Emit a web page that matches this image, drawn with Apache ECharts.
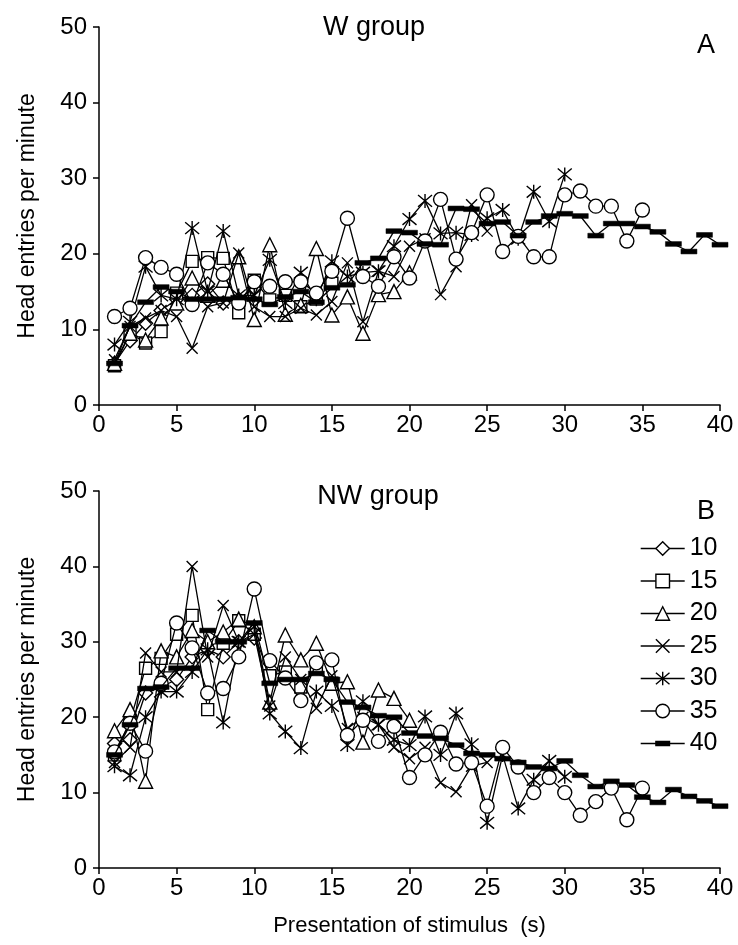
<!DOCTYPE html>
<html><head><meta charset="utf-8">
<script src="https://cdn.jsdelivr.net/npm/echarts@6/dist/echarts.min.js"></script>
<style>html,body{margin:0;padding:0;background:#fff}#c{width:738px;height:945px}</style>
</head><body><div id="c"></div>
<script>
const seconds = [1,2,3,4,5,6,7,8,9,10,11,12,13,14,15,16,17,18,19,20,21,22,23,24,25,26,27,28,29,30,31,32,33,34,35,36,37,38,39,40];
const seriesNames = ['10','15','20','25','30','35','40'];
const xTicks = [0,5,10,15,20,25,30,35,40];
const yTicks = [0,10,20,30,40,50];

// Panel A: W group
const A10 = [5.5, 8.5, 10.8, 12.5, 14.0, 14.5, 16.0, 13.5, 14.0, 15.5];
const A15 = [5.2, 9.5, 8.2, 9.7, 14.8, 19.0, 19.5, 19.4, 12.2, 16.5, 13.9, 14.5, 13.0, 14.0, 16.1];
const A20 = [5.5, 9.5, 8.6, 11.5, 13.5, 16.8, 14.5, 16.5, 19.6, 11.3, 21.2, 12.0, 13.2, 20.7, 11.9, 14.3, 9.5, 14.6, 15.0, 17.5];
const A25 = [6.0, 10.4, 11.5, 12.5, 11.7, 7.5, 13.0, 13.5, 20.1, 13.0, 11.7, 11.7, 12.8, 11.9, 13.7, 18.8, 11.0, 17.7, 17.0, 21.0, 22.0, 14.6, 18.3, 26.5, 23.0];
const A30 = [8.0, 11.0, 18.3, 14.5, 14.0, 23.4, 15.0, 23.0, 14.5, 14.5, 19.2, 13.5, 17.5, 14.0, 19.0, 17.0, 17.5, 17.7, 21.0, 24.6, 27.0, 22.7, 22.8, 22.5, 24.7, 25.8, 22.0, 28.2, 24.3, 30.5];
const A35 = [11.7, 12.8, 19.5, 18.2, 17.3, 13.3, 18.8, 17.3, 13.5, 16.3, 15.7, 16.3, 16.3, 14.8, 17.7, 24.7, 17.0, 15.7, 19.6, 16.8, 21.7, 27.2, 19.3, 22.8, 27.8, 20.3, 22.3, 19.6, 19.6, 27.8, 28.3, 26.3, 26.3, 21.7, 25.8];
const A40 = [5.5, 10.5, 13.6, 15.6, 15.0, 14.0, 14.0, 14.0, 14.2, 14.0, 13.3, 14.3, 15.0, 13.6, 15.5, 15.9, 18.8, 19.4, 23.0, 22.8, 21.3, 21.2, 26.0, 25.9, 24.0, 24.2, 22.4, 24.2, 25.0, 25.3, 25.0, 22.4, 24.0, 24.0, 23.6, 22.9, 21.3, 20.3, 22.5, 21.2];

// Panel B: NW group
const B10 = [16.5, 17.0, 23.2, 24.0, 25.0, 28.0, 29.0, 28.0, 30.0, 30.5];
const B15 = [15.0, 19.5, 26.5, 27.8, 31.0, 33.5, 21.0, 29.8, 32.8, 31.0, 25.5, 26.0, 24.0, 26.5, 24.5];
const B20 = [18.2, 21.0, 11.5, 28.8, 28.0, 31.5, 30.0, 31.3, 33.0, 32.0, 22.0, 30.9, 27.6, 29.8, 24.5, 24.7, 16.7, 23.6, 22.5, 19.6];
const B25 = [14.0, 16.0, 28.5, 26.0, 26.0, 40.0, 28.0, 34.8, 30.0, 31.0, 21.5, 28.0, 25.0, 21.2, 25.5, 18.5, 20.0, 19.0, 16.0, 14.5, 16.0, 11.3, 10.1, 13.5, 14.0];
const B30 = [13.5, 12.3, 20.0, 23.4, 23.4, 26.0, 29.0, 19.3, 30.0, 32.0, 20.5, 18.1, 15.9, 23.4, 21.5, 16.3, 22.1, 19.0, 17.0, 16.3, 20.1, 15.0, 20.5, 16.4, 6.0, 15.0, 7.9, 11.7, 14.2, 12.1];
const B35 = [15.4, 19.2, 15.5, 24.5, 32.5, 29.2, 23.2, 23.8, 28.0, 37.0, 27.5, 25.2, 22.2, 27.2, 27.6, 17.6, 19.6, 16.8, 18.8, 12.0, 15.0, 18.0, 13.8, 14.0, 8.2, 16.0, 13.4, 10.0, 12.0, 10.0, 7.0, 8.8, 10.6, 6.4, 10.6];
const B40 = [15.0, 19.0, 23.8, 24.0, 26.5, 26.5, 31.5, 30.0, 30.0, 32.5, 24.5, 25.0, 25.0, 25.8, 25.0, 22.0, 21.3, 20.2, 20.0, 17.9, 17.5, 17.2, 16.3, 15.2, 15.0, 14.5, 14.0, 13.4, 13.2, 14.2, 12.3, 10.8, 11.5, 11.0, 9.4, 8.7, 10.4, 9.5, 8.9, 8.2];

const panelA = [A10, A15, A20, A25, A30, A35, A40];
const panelB = [B10, B15, B20, B25, B30, B35, B40];

const FONT = 'Liberation Sans, Arial, sans-serif';
const symbolDefs = [
  {symbol: 'diamond', size: 14},
  {symbol: 'rect', size: 12},
  {symbol: 'triangle', size: 14},
  {symbol: 'path://M0,0L10,10M10,0L0,10', size: 11},
  {symbol: 'path://M0,0L10,10M10,0L0,10M5,-1L5,11', size: 14},
  {symbol: 'circle', size: 14},
  {symbol: 'path://M0,0M0,3.5L10,3.5L10,6.5L0,6.5ZM10,10', size: 16, dash: true}
];

function makeSeries(panel, idx) {
  return panel.map((vals, k) => {
    const d = symbolDefs[k];
    return {
      name: seriesNames[k],
      type: 'line',
      xAxisIndex: idx, yAxisIndex: idx,
      data: vals.map((v, i) => [seconds[i], v]),
      symbol: d.symbol,
      symbolSize: d.size,
      showSymbol: true,
      animation: false,
      lineStyle: {color: '#000', width: 1.3},
      itemStyle: d.dash ? {color: '#000', borderColor: '#000', borderWidth: 0.5}
                        : {color: '#fff', borderColor: '#000', borderWidth: 1.4},
      emphasis: {disabled: true},
      z: 2 + k
    };
  });
}

function xAxis(idx, withName) {
  return {
    type: 'value', gridIndex: idx, min: 0, max: 40, interval: 5,
    axisLine: {show: true, onZero: false, lineStyle: {color: '#000', width: 1.5}},
    axisTick: {show: true, length: 6, lineStyle: {color: '#000', width: 1.5}},
    axisLabel: {color: '#000', fontSize: 24, fontFamily: FONT, margin: 8},
    splitLine: {show: false},
    name: withName ? 'Presentation of stimulus  (s)' : '',
    nameLocation: 'middle', nameGap: 47,
    nameTextStyle: {color: '#000', fontSize: 22, fontFamily: FONT}
  };
}
function yAxis(idx) {
  return {
    type: 'value', gridIndex: idx, min: 0, max: 50, interval: 10,
    axisLine: {show: true, lineStyle: {color: '#000', width: 1.5}},
    axisTick: {show: true, length: 6, lineStyle: {color: '#000', width: 1.5}},
    axisLabel: {color: '#000', fontSize: 24, fontFamily: FONT, margin: 12},
    splitLine: {show: false},
    name: 'Head entries per minute',
    nameLocation: 'middle', nameGap: 60, nameRotate: 90,
    nameTextStyle: {color: '#000', fontSize: 23, fontFamily: FONT}
  };
}

const chart = echarts.init(document.getElementById('c'), null, {renderer: 'canvas'});
chart.setOption({
  backgroundColor: '#fff',
  animation: false,
  grid: [
    {left: 99, width: 621, top: 27, height: 378},
    {left: 99, width: 621, top: 491, height: 377}
  ],
  xAxis: [xAxis(0, false), xAxis(1, true)],
  yAxis: [yAxis(0), yAxis(1)],
  legend: {
    data: seriesNames,
    orient: 'vertical',
    left: 635, top: 531,
    itemWidth: 44, itemHeight: 17, itemGap: 7.5,
    textStyle: {color: '#000', fontSize: 25, fontFamily: FONT, lineHeight: 25},
    lineStyle: {width: 1.4, color: '#000'},
    itemStyle: {borderWidth: 1.4},
    selectedMode: false
  },
  graphic: [
    {type: 'text', x: 374, y: 28, style: {text: 'W group', font: '27px ' + FONT, fill: '#000', textAlign: 'center', textVerticalAlign: 'middle'}},
    {type: 'text', x: 706, y: 46, style: {text: 'A', font: '27px ' + FONT, fill: '#000', textAlign: 'center', textVerticalAlign: 'middle'}},
    {type: 'text', x: 378, y: 497, style: {text: 'NW group', font: '27px ' + FONT, fill: '#000', textAlign: 'center', textVerticalAlign: 'middle'}},
    {type: 'text', x: 706, y: 512, style: {text: 'B', font: '27px ' + FONT, fill: '#000', textAlign: 'center', textVerticalAlign: 'middle'}}
  ],
  series: makeSeries(panelA, 0).concat(makeSeries(panelB, 1))
});
</script>
</body></html>
